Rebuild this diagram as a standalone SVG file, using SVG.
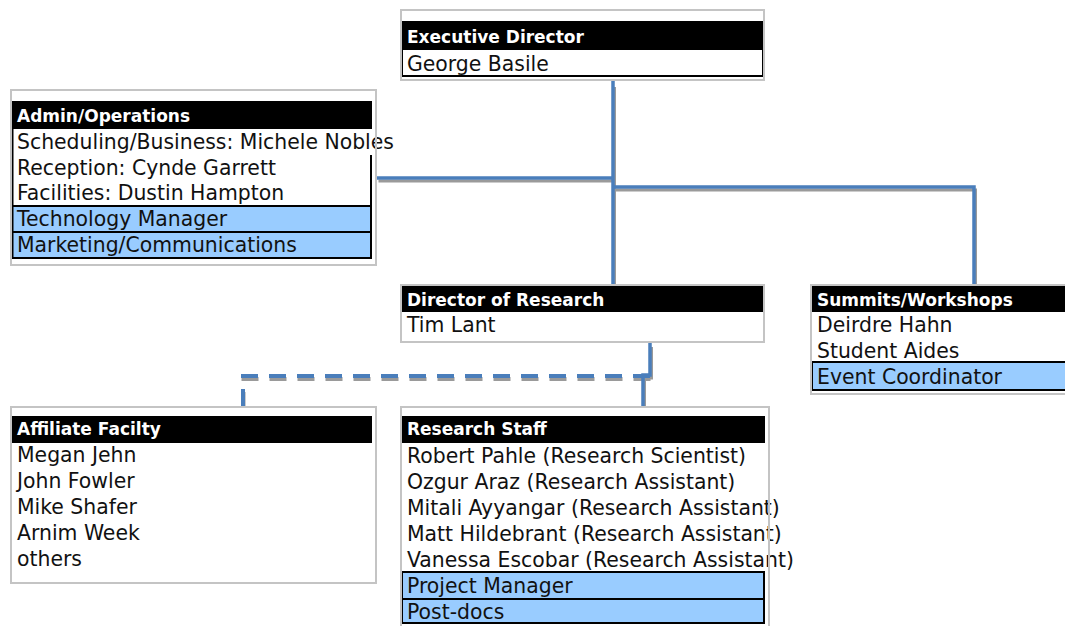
<svg xmlns="http://www.w3.org/2000/svg" width="1065" height="626" viewBox="0 0 1065 626">
  <style>
    .bg { fill: #ffffff; }
    .frame { fill: none; stroke: #c4c4c4; stroke-width: 2; }
    .head { fill: #000000; }
    .cell { fill: #99ccff; stroke: #000000; stroke-width: 2; }
    .rule { stroke: #000000; stroke-width: 2; fill: none; }
    .ht { font-family: "DejaVu Sans", Verdana, sans-serif; font-weight: bold; font-size: 17px; fill: #ffffff; }
    .t { font-family: "DejaVu Sans", Verdana, sans-serif; font-size: 20.4px; fill: #111111; }
    .wire { fill: none; stroke: #4a7ebb; stroke-width: 3.5; }
    .shadow { fill: none; stroke: #9a9a9a; stroke-width: 3; }
    .dash { stroke-dasharray: 17 11; stroke-width: 4; }
  </style>

  <!-- connectors: gray drop shadow first, blue line on top -->
  <g id="connectors">
    <g class="shadow" transform="translate(1.5,3)">
      <path d="M613,84 V286"/>
      <path d="M613,178 H377"/>
      <path d="M614,187 H974 V284"/>
      <path d="M650,344 V375 H643 V405"/>
    </g>
    <path class="shadow dash" transform="translate(0.5,3)" d="M650,376 H243 V405"/>
    <g class="wire">
      <path d="M613,81 V287"/>
      <path d="M613,178 H377"/>
      <path d="M614,187 H974 V287"/>
      <path d="M650,343 V375 H643 V407"/>
      <path class="dash" d="M650,376 H243 V407"/>
    </g>
  </g>

  <!-- Executive Director -->
  <g id="executive-director">
    <rect class="bg" x="401" y="10" width="363" height="70"/>
    <rect x="402" y="22" width="361" height="54" fill="#ffffff" stroke="#000" stroke-width="2"/>
    <rect class="head" x="402" y="22" width="361" height="28"/>
    <text class="ht" x="407" y="43">Executive Director</text>
    <text class="t" x="407" y="71">George Basile</text>
    <rect class="frame" x="401" y="10" width="363" height="70"/>
  </g>

  <!-- Admin/Operations -->
  <g id="admin-operations">
    <rect class="bg" x="11" y="90" width="365" height="175"/>
    <rect class="head" x="12" y="101" width="360" height="28"/>
    <path class="rule" d="M12.5,101 V258 M371,155 V258"/>
    <rect class="cell" x="12.5" y="206" width="358.5" height="26"/>
    <rect class="cell" x="12.5" y="232" width="358.5" height="26"/>
    <text class="ht" x="17" y="122">Admin/Operations</text>
    <text class="t" x="17" y="148.5">Scheduling/Business: Michele Nobles</text>
    <text class="t" x="17" y="174.5">Reception: Cynde Garrett</text>
    <text class="t" x="17" y="200">Facilities: Dustin Hampton</text>
    <text class="t" x="17" y="226">Technology Manager</text>
    <text class="t" x="17" y="252">Marketing/Communications</text>
    <rect class="frame" x="11" y="90" width="365" height="175"/>
  </g>

  <!-- Director of Research -->
  <g id="director-of-research">
    <rect class="bg" x="401" y="285" width="363" height="57"/>
    <rect class="head" x="402" y="285" width="361" height="27"/>
    <text class="ht" x="407" y="306">Director of Research</text>
    <text class="t" x="407" y="332">Tim Lant</text>
    <rect class="frame" x="401" y="285" width="363" height="57"/>
  </g>

  <!-- Summits/Workshops -->
  <g id="summits-workshops">
    <rect class="bg" x="811" y="285" width="260" height="109"/>
    <rect class="head" x="812" y="285" width="260" height="27"/>
    <rect class="cell" x="812" y="362" width="260" height="28"/>
    <text class="ht" x="817" y="306">Summits/Workshops</text>
    <text class="t" x="817" y="332">Deirdre Hahn</text>
    <text class="t" x="817" y="358">Student Aides</text>
    <text class="t" x="817" y="384">Event Coordinator</text>
    <rect class="frame" x="811" y="285" width="260" height="109"/>
  </g>

  <!-- Affiliate Facilty -->
  <g id="affiliate-facilty">
    <rect class="bg" x="11" y="407" width="365" height="176"/>
    <rect class="head" x="12" y="416" width="360" height="27"/>
    <text class="ht" x="17" y="435">Affiliate Facilty</text>
    <text class="t" x="17" y="462">Megan Jehn</text>
    <text class="t" x="17" y="488">John Fowler</text>
    <text class="t" x="17" y="514">Mike Shafer</text>
    <text class="t" x="17" y="540">Arnim Week</text>
    <text class="t" x="17" y="566">others</text>
    <rect class="frame" x="11" y="407" width="365" height="176"/>
  </g>

  <!-- Research Staff -->
  <g id="research-staff">
    <rect class="bg" x="401" y="407" width="368" height="230"/>
    <rect class="head" x="402" y="416" width="363" height="27"/>
    <rect class="cell" x="402" y="572" width="362" height="27"/>
    <rect class="cell" x="402" y="599" width="362" height="24"/>
    <text class="ht" x="407" y="435">Research Staff</text>
    <text class="t" x="407" y="463">Robert Pahle (Research Scientist)</text>
    <text class="t" x="407" y="489">Ozgur Araz (Research Assistant)</text>
    <text class="t" x="407" y="515">Mitali Ayyangar (Research Assistant)</text>
    <text class="t" x="407" y="541">Matt Hildebrant (Research Assistant)</text>
    <text class="t" x="407" y="567">Vanessa Escobar (Research Assistant)</text>
    <text class="t" x="407" y="593">Project Manager</text>
    <text class="t" x="407" y="619">Post-docs</text>
    <rect class="frame" x="401" y="407" width="368" height="230"/>
  </g>
</svg>
